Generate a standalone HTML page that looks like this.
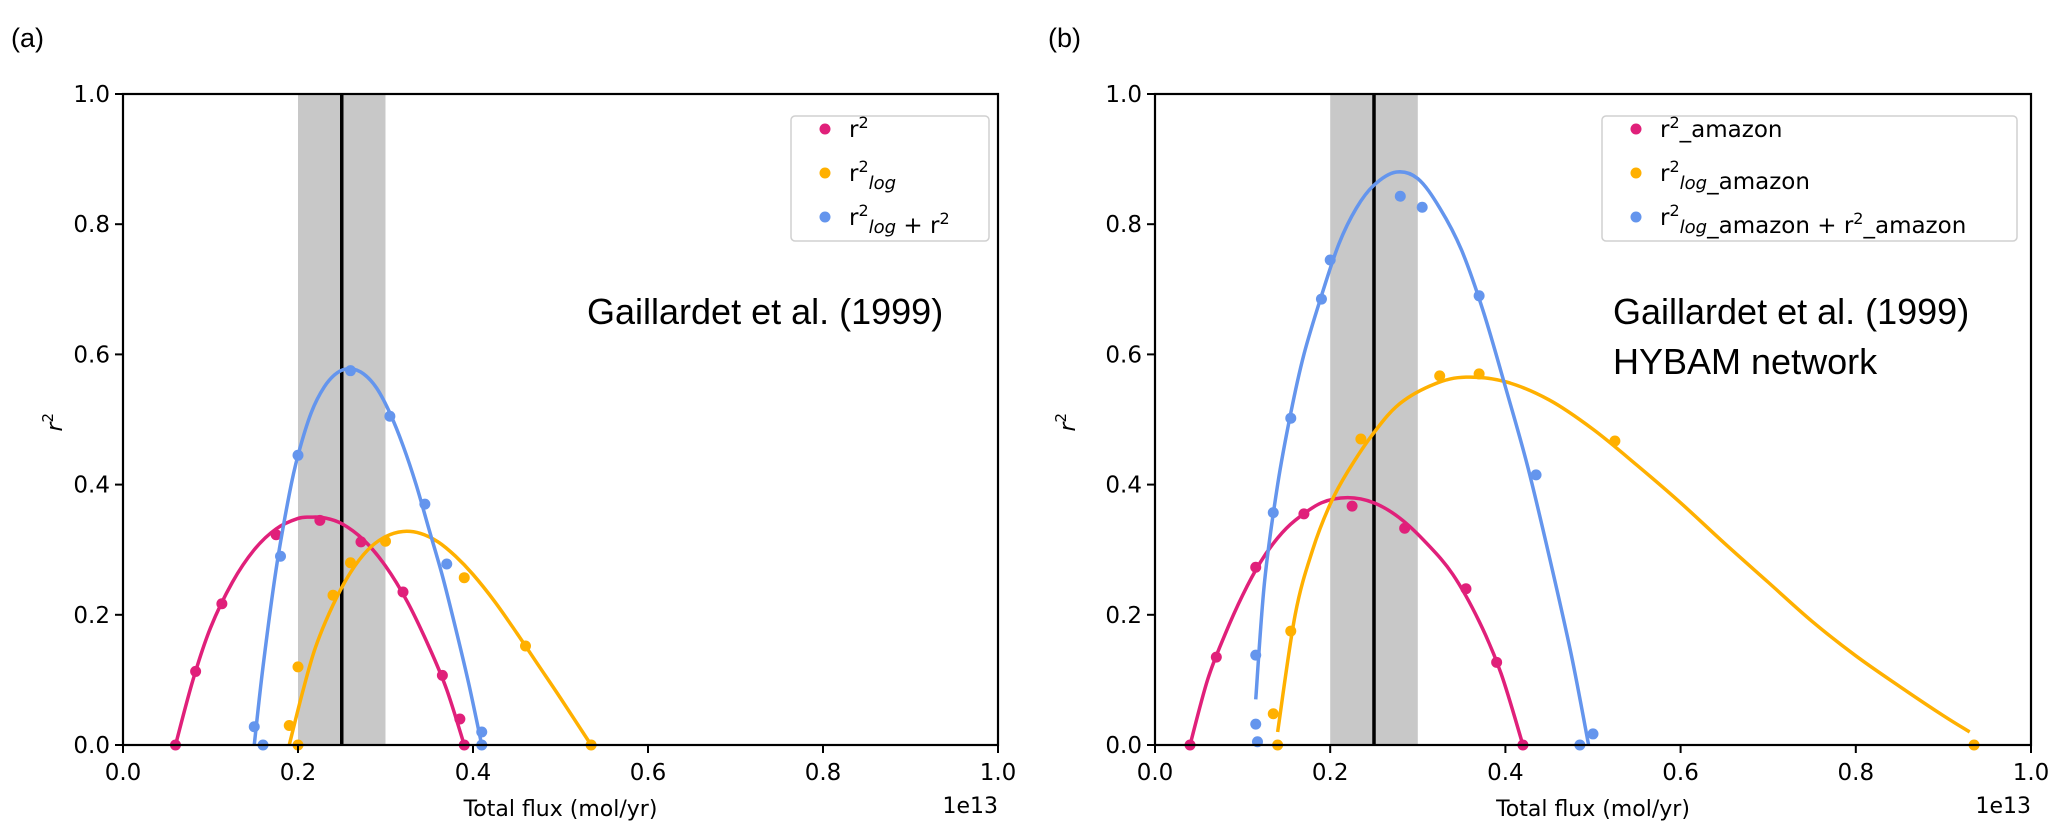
<!DOCTYPE html>
<html><head><meta charset="utf-8"><style>
html,body{margin:0;padding:0;background:#fff;}
svg{display:block;font-family:"DejaVu Sans","Liberation Sans",sans-serif;}
</style></head><body>
<svg id="chart" width="2067" height="838" viewBox="0 0 2067 838" xmlns="http://www.w3.org/2000/svg"></svg>
<script>
const xTicks=[0,0.2,0.4,0.6,0.8,1.0];
const yTicks=[0,0.2,0.4,0.6,0.8,1.0];
const tickLabels=["0.0","0.2","0.4","0.6","0.8","1.0"];
// panel a points
const aMagX=[0.06,0.083,0.113,0.175,0.225,0.272,0.32,0.365,0.385,0.39];
const aMagY=[0,0.113,0.217,0.323,0.345,0.312,0.235,0.107,0.04,0];
const aOrX=[0.19,0.2,0.2,0.24,0.26,0.3,0.39,0.46,0.535];
const aOrY=[0.03,0.12,0,0.23,0.28,0.313,0.257,0.152,0];
const aBlX=[0.15,0.16,0.18,0.2,0.26,0.305,0.345,0.37,0.41,0.41];
const aBlY=[0.028,0,0.29,0.445,0.575,0.505,0.37,0.278,0.02,0];
// panel a fitted curves
const aMagCX=[0.06,0.08,0.1,0.125,0.15,0.175,0.2,0.215,0.23,0.25,0.275,0.3,0.325,0.35,0.37,0.39];
const aMagCY=[0,0.1,0.18,0.25,0.3,0.332,0.348,0.35,0.349,0.34,0.315,0.275,0.22,0.15,0.085,0];
const aOrCX=[0.19,0.205,0.22,0.24,0.26,0.28,0.3,0.32,0.34,0.36,0.38,0.4,0.425,0.45,0.475,0.5,0.535];
const aOrCY=[0,0.08,0.15,0.215,0.265,0.3,0.32,0.328,0.325,0.312,0.29,0.262,0.22,0.172,0.122,0.072,0];
const aBlCX=[0.15,0.16,0.175,0.19,0.2,0.215,0.23,0.245,0.26,0.275,0.29,0.305,0.32,0.335,0.35,0.365,0.38,0.395,0.41];
const aBlCY=[0,0.12,0.27,0.385,0.445,0.51,0.55,0.572,0.578,0.57,0.548,0.51,0.46,0.4,0.33,0.26,0.18,0.095,0];
// panel b points
const bMagX=[0.04,0.07,0.115,0.17,0.225,0.285,0.355,0.39,0.42];
const bMagY=[0,0.135,0.273,0.355,0.367,0.333,0.24,0.127,0];
const bOrX=[0.135,0.14,0.155,0.235,0.325,0.37,0.525,0.935];
const bOrY=[0.048,0,0.175,0.47,0.567,0.57,0.467,0];
const bBlX=[0.115,0.117,0.115,0.135,0.155,0.19,0.2,0.28,0.305,0.37,0.435,0.485,0.5];
const bBlY=[0.032,0.005,0.138,0.357,0.502,0.685,0.745,0.843,0.826,0.69,0.415,0,0.017];
// panel b fitted curves
const bMagCX=[0.04,0.06,0.08,0.1,0.12,0.14,0.16,0.19,0.22,0.25,0.28,0.31,0.34,0.37,0.395,0.42];
const bMagCY=[0,0.1,0.17,0.23,0.28,0.318,0.345,0.372,0.38,0.372,0.348,0.31,0.262,0.19,0.11,0];
const bOrCX=[0.14,0.16,0.18,0.2,0.22,0.25,0.28,0.32,0.355,0.4,0.45,0.5,0.55,0.6,0.65,0.7,0.75,0.8,0.85,0.9,0.93];
const bOrCY=[0.02,0.2,0.3,0.37,0.42,0.48,0.525,0.555,0.565,0.558,0.53,0.485,0.43,0.372,0.31,0.25,0.19,0.137,0.09,0.045,0.02];
const bBlCX=[0.115,0.125,0.14,0.155,0.17,0.19,0.21,0.23,0.25,0.275,0.3,0.325,0.35,0.375,0.4,0.425,0.45,0.475,0.495];
const bBlCY=[0.07,0.25,0.4,0.51,0.6,0.69,0.77,0.825,0.86,0.88,0.87,0.825,0.76,0.665,0.55,0.43,0.29,0.14,0];
const bandLo=0.2, bandHi=0.3, refLine=0.25;

const NS="http://www.w3.org/2000/svg";
const svg=document.getElementById('chart');
function mk(tag,attrs,parent,text){const e=document.createElementNS(NS,tag);for(const k in attrs)e.setAttribute(k,attrs[k]);if(text!==undefined)e.textContent=text;(parent||svg).appendChild(e);return e;}
const C={mag:"#e0207a",or:"#ffb000",bl:"#6495ed"};
const Y0=745,Y1=94;
function ys(v){return Y0+(Y1-Y0)*v;}
function smooth(pts){let d="M"+pts[0][0]+","+pts[0][1];for(let i=0;i<pts.length-1;i++){const p0=pts[i-1]||pts[i],p1=pts[i],p2=pts[i+1],p3=pts[i+2]||p2;const c1=[p1[0]+(p2[0]-p0[0])/6,p1[1]+(p2[1]-p0[1])/6],c2=[p2[0]-(p3[0]-p1[0])/6,p2[1]-(p3[1]-p1[1])/6];d+=" C"+c1+" "+c2+" "+p2;}return d;}

function panel(name,X0,X1,series,legendLabels,legendBox,annot,annX,label,labelX,ylabX){
  const xs=v=>X0+(X1-X0)*v;
  const g=mk('g',{});
  
  
  const band=mk('rect',{x:xs(bandLo),y:Y1,width:xs(bandHi)-xs(bandLo),height:Y0-Y1,fill:"#c8c8c8"},g);
  
  
  const rl=mk('line',{x1:xs(refLine),x2:xs(refLine),y1:Y1,y2:Y0,stroke:"#000","stroke-width":3.5},g);
  
  
  series.forEach(s=>{
    const pts=s.cx.map((x,i)=>[xs(x),ys(s.cy[i])]);
    const p=mk('path',{d:smooth(pts),fill:"none",stroke:s.col,"stroke-width":3.5},g);
    
    
    s.px.forEach((x,i)=>{
      const c=mk('circle',{cx:xs(x),cy:ys(s.py[i]),r:5.5,fill:s.col},g);
      
      
    });
  });
  const fr=mk('rect',{x:X0,y:Y1,width:X1-X0,height:Y0-Y1,fill:"none",stroke:"#000","stroke-width":2.2},g);
  
  
  xTicks.forEach((t,i)=>{
    mk('line',{x1:xs(t),x2:xs(t),y1:Y0,y2:Y0+8,stroke:"#000","stroke-width":2},g);
    const tl=mk('text',{x:xs(t),y:Y0+35,"text-anchor":"middle","font-size":23},g,tickLabels[i]);
    
    
  });
  yTicks.forEach((t,i)=>{
    mk('line',{x1:X0-8,x2:X0,y1:ys(t),y2:ys(t),stroke:"#000","stroke-width":2},g);
    const tl=mk('text',{x:X0-13,y:ys(t)+8,"text-anchor":"end","font-size":23},g,tickLabels[i]);
    
    
  });
  const xt=mk('text',{x:(X0+X1)/2,y:816,"text-anchor":"middle","font-size":22},g,"Total flux (mol/yr)");
  
  
  const ex=mk('text',{x:X1,y:813,"text-anchor":"end","font-size":22},g,"1e13");
  
  
  const yt=mk('text',{x:0,y:0,"font-size":22,"font-style":"italic",transform:`translate(${ylabX},${(Y0+Y1)/2+12}) rotate(-90)`},g);
  yt.innerHTML='r<tspan dy="-9" font-size="15" font-style="normal">2</tspan>';
  
  
  const pl=mk('text',{x:labelX,y:47,"font-size":27,"font-family":"Liberation Sans, sans-serif"},g,label);
  
  
  const lg=mk('g',{},g);
  
  
  mk('rect',{x:legendBox[0],y:legendBox[1],width:legendBox[2],height:legendBox[3],rx:4,fill:"#fff",stroke:"#d0d0d0","stroke-width":1.5},lg);
  series.forEach((s,i)=>{
    const cy=legendBox[1]+13+i*44;
    mk('circle',{cx:legendBox[0]+34,cy:cy,r:5.5,fill:s.col},lg);
    const t=mk('text',{x:legendBox[0]+58,y:cy+8,"font-size":23},lg);
    t.innerHTML=legendLabels[i];
    
    
  });
  annot.forEach((line,i)=>{
    const t=mk('text',{x:annX,y:324+i*50,"font-size":36,"font-family":"Liberation Sans, sans-serif"},g,line);
    
    
  });
}
const sup='<tspan dy="-9" font-size="16">2</tspan>';
const logsub='<tspan dy="17" font-size="18" font-style="italic">log</tspan><tspan dy="-8"></tspan>';
panel("panel-a",123,998,
 [{key:"r2",col:C.mag,px:aMagX,py:aMagY,cx:aMagCX,cy:aMagCY},
  {key:"r2log",col:C.or,px:aOrX,py:aOrY,cx:aOrCX,cy:aOrCY},
  {key:"r2log-plus-r2",col:C.bl,px:aBlX,py:aBlY,cx:aBlCX,cy:aBlCY}],
 ['r'+sup+'<tspan dy="9"></tspan>','r'+sup+logsub,'r'+sup+logsub+' + r'+sup],
 [791,116,198,125],["Gaillardet et al. (1999)"],587,"(a)",11,62);
panel("panel-b",1155,2031,
 [{key:"r2-amazon",col:C.mag,px:bMagX,py:bMagY,cx:bMagCX,cy:bMagCY},
  {key:"r2log-amazon",col:C.or,px:bOrX,py:bOrY,cx:bOrCX,cy:bOrCY},
  {key:"r2log-plus-r2-amazon",col:C.bl,px:bBlX,py:bBlY,cx:bBlCX,cy:bBlCY}],
 ['r'+sup+'<tspan dy="9">_amazon</tspan>','r'+sup+logsub+'_amazon','r'+sup+logsub+'_amazon + r'+sup+'<tspan dy="9">_amazon</tspan>'],
 [1602,116,415,125],["Gaillardet et al. (1999)","HYBAM network"],1613,"(b)",1048,1075);
</script>
</body></html>
